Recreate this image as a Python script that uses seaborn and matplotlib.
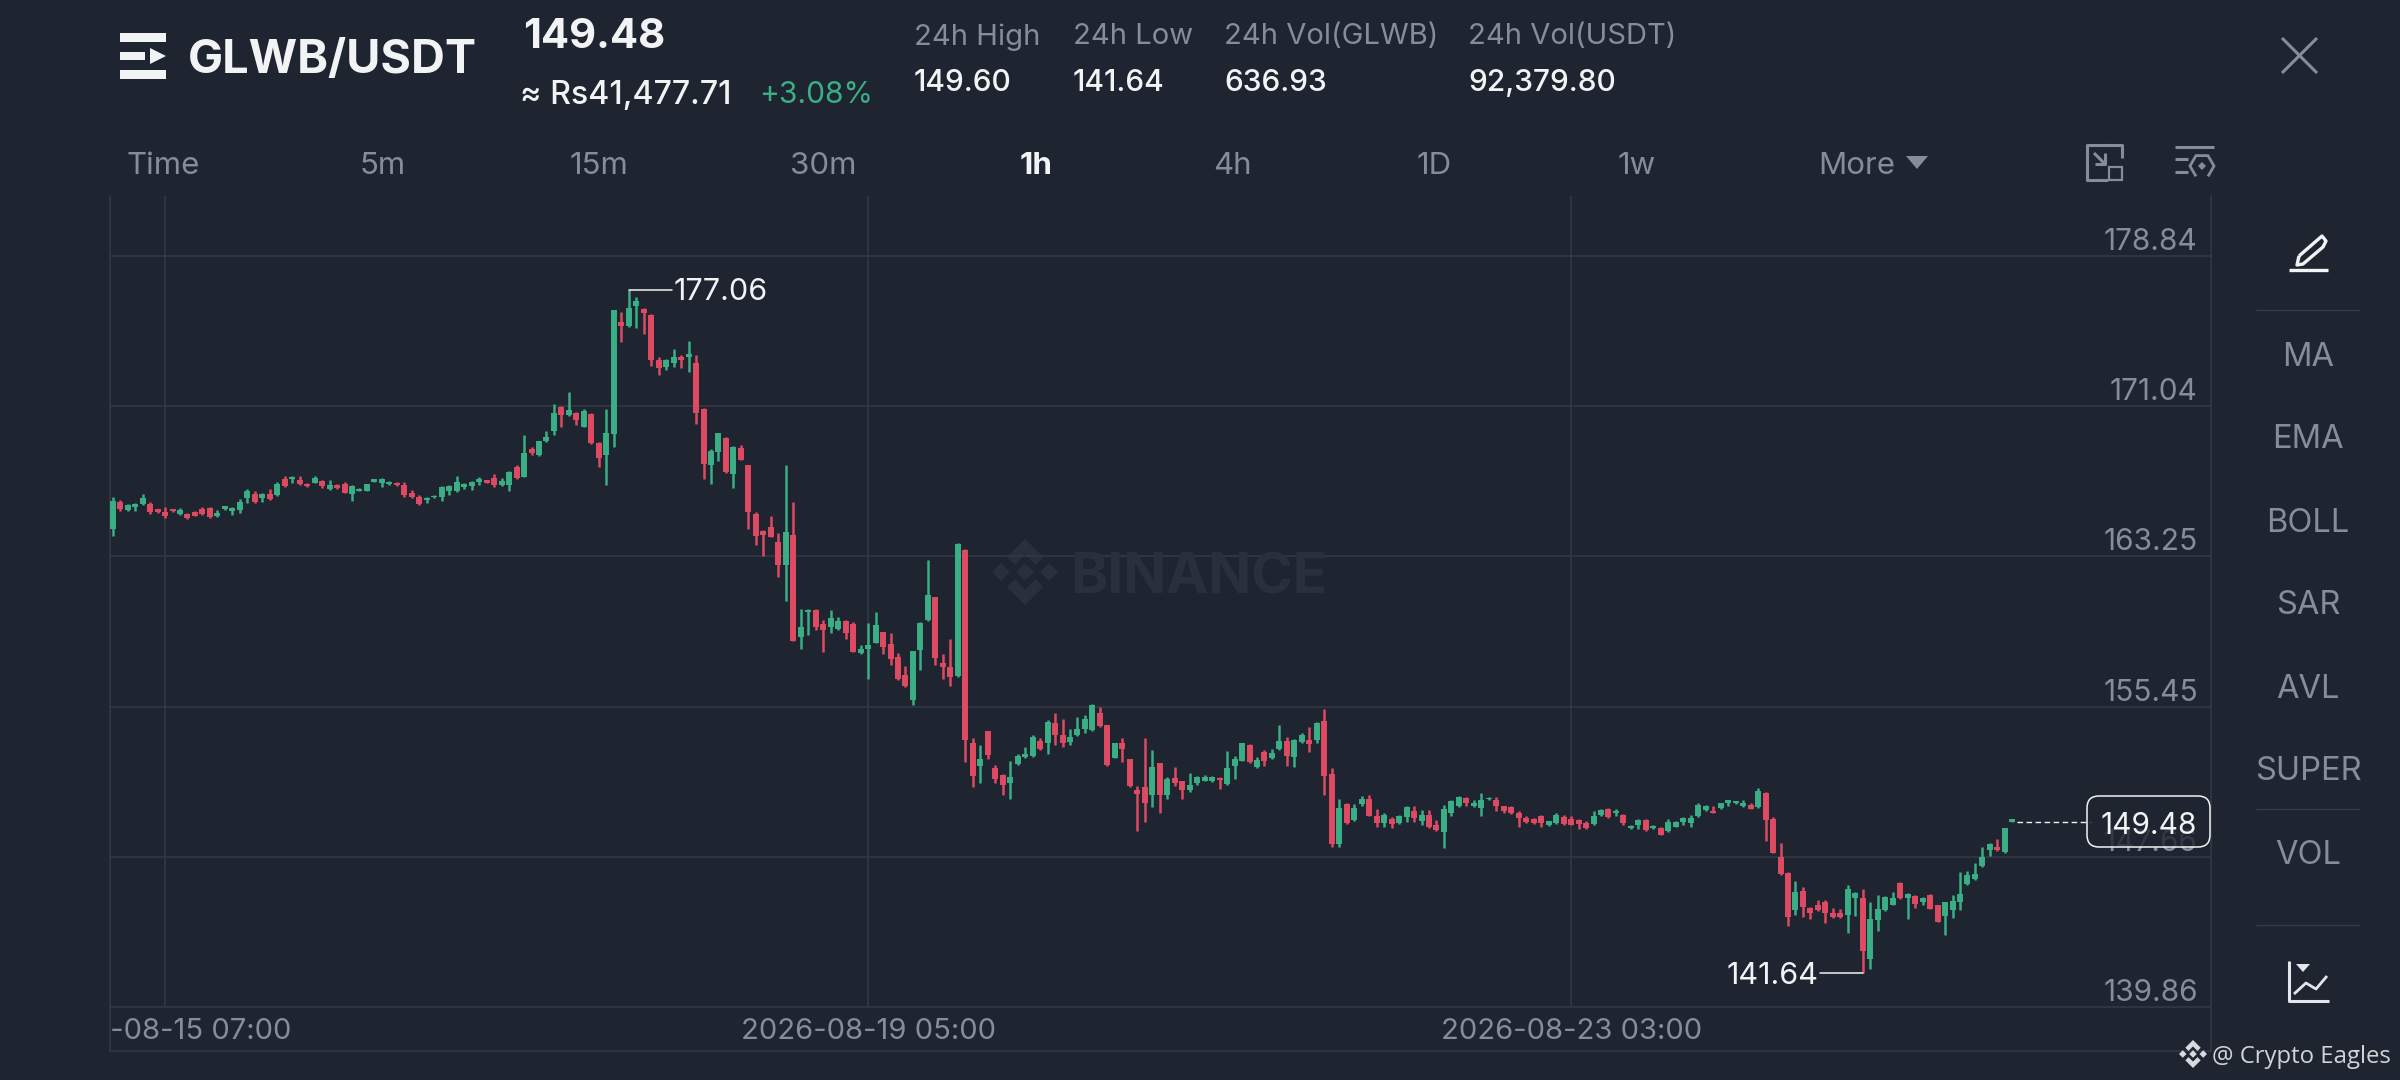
import matplotlib
matplotlib.use("Agg")
import matplotlib.pyplot as plt
from matplotlib.lines import Line2D
from matplotlib.patches import Polygon, Rectangle, FancyBboxPatch
from matplotlib.transforms import Affine2D
import numpy as np
import pandas as pd
import seaborn as sns

# ---------- data ----------
directions = ("GRGGGRRRRG" "RRRRGGGGGR" "GRGRGRRGRG" "RRGGGGGGRR" "RRGGGGGGGG" "RRGGRGRGGG"
              "RGRGRRGGRG" "GRRRGGRGRR" "GGRGRRRRRR" "GRGGRRGGRR" "GGGRRRRGGG" "RRRGRRGRRR"
              "GGGGRGRRGG" "GGRRGRRRRG" "RGRRGGGGRG" "GGRGRGGRGG" "RGRRGRGGRR" "GRGGRGRRGG"
              "GRGGGRRRRR" "RRGGRRRRGG" "RGRGGRGRGG" "GGGGRGGGGR" "GRRRRGRRRR" "RRGGRGGGGR"
              "GRGRRGGGGG" "GGRGG")

highs = [
 166.31,166.17,165.97,166.00,166.49,166.09,165.72,165.79,165.72,165.76,
 165.52,165.62,165.83,165.79,165.66,165.86,165.83,166.24,166.73,166.62,
 166.52,166.73,167.11,167.42,167.42,167.42,167.04,167.44,167.21,167.21,
 166.99,167.11,166.97,166.78,167.00,167.28,167.30,167.14,167.11,167.11,
 166.69,166.43,166.35,166.42,166.90,166.95,167.42,167.07,167.14,167.39,
 167.21,167.52,167.30,167.70,167.99,169.55,168.94,169.25,169.77,171.16,
 171.07,171.76,170.72,170.88,170.67,169.20,170.88,176.03,175.93,177.06,
 176.69,176.12,175.83,173.58,173.47,173.99,173.68,174.44,173.68,170.93,
 168.80,169.67,169.43,168.98,169.04,167.99,165.55,164.60,165.34,164.44,
 167.99,166.07,160.50,160.50,160.50,159.95,160.46,160.08,159.95,159.84,
 158.63,159.77,160.38,159.34,159.29,158.21,157.56,158.35,159.84,163.06,
 161.16,158.18,158.94,163.93,163.62,153.81,153.46,154.21,152.42,151.96,
 152.65,152.99,153.34,153.96,153.83,154.76,155.11,154.79,154.31,154.93,
 155.02,155.59,155.42,154.50,153.58,153.81,152.75,151.33,153.81,153.20,
 152.55,151.82,152.30,151.61,151.99,151.85,151.90,151.84,151.78,153.17,
 152.89,153.55,153.51,152.82,153.20,153.24,154.52,153.86,153.76,154.07,
 154.41,154.67,155.31,152.25,150.64,150.44,150.40,150.79,150.87,150.16,
 149.95,149.71,149.85,150.27,150.27,150.09,150.09,149.57,150.34,150.58,
 150.79,150.75,150.61,150.99,150.75,150.75,150.30,150.27,150.02,149.78,
 149.68,149.82,149.54,149.92,149.85,149.78,149.61,149.50,150.02,150.13,
 150.20,150.16,149.89,149.30,149.64,149.64,149.30,149.19,149.61,149.50,
 149.71,149.85,150.47,150.34,150.27,150.47,150.59,150.54,150.58,150.47,
 151.23,151.03,149.71,148.39,146.87,146.40,146.11,145.07,145.41,145.41,
 144.98,144.93,146.18,145.83,146.00,145.31,145.67,145.62,145.85,146.35,
 145.76,145.69,145.55,145.73,145.17,145.33,145.67,146.87,146.90,147.35,
 148.18,148.36,148.60,149.15,149.60]

body_tops = [
 166.14,166.09,165.92,165.95,166.26,165.97,165.69,165.57,165.69,165.66,
 165.43,165.55,165.69,165.76,165.48,165.85,165.78,166.09,166.66,166.49,
 166.49,166.49,167.00,167.28,167.39,167.21,167.00,167.32,167.18,166.97,
 166.95,166.99,166.90,166.75,166.99,167.25,167.28,167.13,167.07,166.94,
 166.56,166.35,166.30,166.40,166.83,166.90,167.13,167.00,167.11,167.28,
 167.21,167.32,167.14,167.63,167.91,168.63,168.84,169.22,169.43,170.71,
 171.02,170.85,170.71,170.81,170.64,169.11,169.67,176.03,175.43,176.12,
 176.52,176.07,175.79,173.44,173.44,173.58,173.61,173.75,173.27,170.91,
 168.73,169.63,169.39,168.94,168.87,167.97,165.45,164.58,164.79,164.01,
 164.53,164.35,159.60,160.46,160.46,159.74,160.03,159.91,159.91,159.74,
 158.44,158.66,159.67,159.30,158.70,158.04,157.09,158.32,159.81,161.24,
 161.14,157.73,157.52,163.89,163.58,153.55,152.72,154.17,152.25,151.92,
 151.82,152.89,152.99,153.90,153.69,154.67,154.62,153.98,153.86,154.28,
 154.83,155.52,155.14,154.48,153.55,153.58,152.72,151.13,151.27,152.30,
 152.51,151.72,151.73,151.58,151.39,151.78,151.78,151.80,151.75,152.25,
 152.75,153.55,153.48,152.68,153.10,153.03,153.69,153.65,153.72,153.98,
 153.72,154.62,154.73,151.96,150.18,150.40,150.18,150.65,150.65,149.78,
 149.82,149.64,149.75,150.23,150.06,149.82,149.83,149.31,150.13,150.54,
 150.75,150.72,150.44,150.58,150.73,150.61,150.27,150.23,149.95,149.68,
 149.64,149.75,149.50,149.85,149.71,149.61,149.57,149.40,149.78,150.09,
 150.16,150.06,149.82,149.26,149.57,149.57,149.26,149.16,149.47,149.47,
 149.68,149.68,150.34,150.30,150.06,150.44,150.58,150.53,150.47,150.37,
 151.06,150.99,149.64,147.66,146.83,145.85,145.90,144.98,145.15,145.31,
 144.72,144.72,145.97,145.76,145.50,144.45,144.93,145.59,145.50,146.31,
 145.73,145.62,145.52,145.66,145.14,145.29,145.38,145.73,146.71,146.76,
 147.66,148.32,148.18,149.13,149.60]

body_bottoms = [
 164.65,165.69,165.66,165.83,165.97,165.57,165.55,165.34,165.59,165.45,
 165.22,165.36,165.45,165.31,165.34,165.71,165.62,165.66,166.28,166.05,
 166.26,166.24,166.42,166.90,167.28,167.00,166.90,167.07,166.90,166.73,
 166.78,166.56,166.49,166.66,166.66,167.13,167.07,166.99,166.94,166.42,
 166.31,165.97,166.17,166.31,166.35,166.66,166.62,166.83,166.90,167.09,
 167.07,166.94,166.95,166.95,167.32,167.39,168.60,168.49,169.24,169.77,
 170.59,170.59,170.33,169.98,169.11,168.34,168.51,169.60,175.20,175.20,
 176.24,175.86,173.44,173.01,173.09,173.30,173.44,173.58,170.67,168.04,
 167.99,168.68,167.63,167.52,168.25,165.57,164.30,164.35,164.27,162.80,
 162.80,158.87,159.08,160.38,159.56,159.43,159.56,159.46,159.25,158.30,
 158.21,158.46,158.77,158.56,157.90,156.87,156.52,155.80,158.39,159.95,
 157.96,157.52,157.00,157.04,153.72,151.85,152.37,152.94,151.68,151.39,
 151.47,152.48,152.82,152.89,153.24,153.55,153.98,153.58,153.64,153.96,
 154.28,154.24,154.45,152.42,152.80,153.24,151.33,150.92,150.47,150.87,
 150.87,150.87,151.47,151.13,151.13,151.47,151.61,151.58,151.65,151.44,
 152.37,152.65,152.60,152.34,152.65,152.77,153.24,152.89,152.86,153.64,
 153.51,153.72,151.85,148.32,148.32,149.40,149.57,150.40,149.78,149.40,
 149.40,149.37,149.40,149.71,149.66,149.54,149.23,149.05,148.97,149.92,
 150.27,150.47,150.27,150.18,150.65,150.27,150.06,149.92,149.66,149.44,
 149.40,149.40,149.30,149.40,149.37,149.33,149.37,149.16,149.37,149.83,
 149.71,149.92,149.40,149.16,149.30,149.05,149.16,148.81,149.02,149.23,
 149.44,149.40,149.75,150.09,149.95,150.18,150.44,150.44,150.27,150.16,
 150.23,149.57,147.88,146.76,144.51,144.89,145.07,144.72,144.89,144.72,
 144.51,144.51,144.64,145.52,142.78,142.33,144.38,144.89,145.17,145.50,
 145.50,145.21,145.33,144.96,144.29,144.58,144.89,145.33,146.24,146.49,
 147.18,148.01,148.01,147.91,149.48]

lows = [
 164.31,165.62,165.59,165.62,165.93,165.43,165.52,165.24,165.55,165.41,
 165.19,165.33,165.41,165.24,165.27,165.67,165.38,165.52,166.04,166.04,
 166.07,166.17,166.38,166.87,167.07,166.97,166.87,167.04,166.78,166.69,
 166.73,166.52,166.14,166.62,166.62,167.11,166.87,166.94,166.90,166.31,
 166.28,165.93,166.00,166.28,166.14,166.42,166.59,166.73,166.69,166.94,
 167.04,166.87,166.90,166.62,167.28,167.35,168.53,168.46,169.20,169.53,
 169.95,170.55,170.08,169.94,169.08,167.90,166.95,168.94,174.37,175.17,
 175.10,174.79,173.13,172.68,172.92,173.06,173.02,172.82,170.12,167.25,
 167.00,168.21,167.59,166.78,168.23,164.69,163.82,163.27,164.24,162.16,
 160.91,158.84,158.46,159.18,159.43,158.28,159.29,159.43,158.98,158.27,
 158.18,156.90,158.73,158.18,157.59,156.83,156.48,155.53,157.35,159.91,
 157.59,156.87,156.52,157.01,152.60,151.30,151.51,152.75,151.51,150.85,
 150.68,152.42,152.77,152.86,153.20,152.99,153.48,153.34,153.48,153.93,
 154.10,154.21,154.38,152.37,152.77,152.60,151.30,149.02,149.48,150.23,
 149.95,150.68,151.33,150.64,151.02,151.39,151.58,151.54,151.20,151.40,
 151.68,152.61,152.55,152.29,152.37,152.74,153.20,152.37,152.34,153.55,
 153.12,153.58,150.85,148.15,148.15,149.37,149.54,150.27,149.75,149.19,
 149.19,149.16,149.37,149.44,149.44,149.33,149.16,149.02,148.12,149.75,
 150.23,150.27,150.23,149.78,150.61,150.06,149.95,149.89,149.19,149.40,
 149.37,149.19,149.26,149.37,149.30,149.30,149.12,149.12,149.30,149.80,
 149.68,149.78,149.30,149.12,149.12,148.99,149.12,148.78,148.95,149.19,
 149.30,149.23,149.71,150.02,149.92,150.15,150.30,150.40,150.23,150.13,
 150.20,148.50,147.84,146.73,144.06,144.62,144.51,144.43,144.86,144.24,
 144.48,144.48,143.68,144.58,141.64,141.85,143.79,144.86,145.14,145.45,
 144.41,145.00,145.14,144.93,144.26,143.61,144.50,144.89,146.19,146.45,
 147.14,147.70,147.97,147.87,149.46]

price_ticks = [178.84, 171.04, 163.25, 155.45, 147.66, 139.86]
price_labels = ["178.84", "171.04", "163.25", "155.45", "147.66", "139.86"]
time_tick_candles = [7, 101, 195]
time_labels = ["2026-08-15 07:00", "2026-08-19 05:00", "2026-08-23 03:00"]
high_candle, high_value = 69, 177.06
low_candle, low_value = 234, 141.64
last_candle, last_price = 254, 149.48
tabs = ["Time", "5m", "15m", "30m", "1h", "4h", "1D", "1w", "More"]
indicators = ["MA", "EMA", "BOLL", "SAR", "AVL", "SUPER", "VOL"]
stats_names = ["24h High", "24h Low", "24h Vol(GLWB)", "24h Vol(USDT)"]
stats_values = ["149.60", "141.64", "636.93", "92,379.80"]

# ---------- style ----------
BG = "#1e2430"
GRID = "#353b46"
GREY = "#858d9a"
WHITE = "#f2f3f5"
GREEN = "#3aae84"
RED = "#de4a62"
WM = "#2a303b"

sns.set_theme(style="dark", rc={"figure.facecolor": BG, "axes.facecolor": BG, "savefig.facecolor": BG})
plt.rcParams["font.family"] = ["Inter", "DejaVu Sans"]

fig = plt.figure(figsize=(24, 10.8), dpi=100)
px = Affine2D().scale(1, -1).translate(0, 1080)   # screen pixels, y downwards

L, R, T, B = 110, 2211, 196, 1051
ax = fig.add_axes([L / 2400, 1 - B / 1080, (R - L) / 2400, (B - T) / 1080])

# ---------- candles ----------
n = len(highs)
idx = np.arange(n)
dirs = list(directions)
wicks = pd.DataFrame({"candle": np.r_[idx, idx], "price": highs + lows, "dir": dirs * 2})
bodies = pd.DataFrame({"candle": np.r_[idx, idx], "price": body_tops + body_bottoms, "dir": dirs * 2})
palette = {"G": GREEN, "R": RED}
sns.lineplot(data=wicks, x="candle", y="price", hue="dir", units="candle", estimator=None,
             palette=palette, legend=False, ax=ax, lw=1.8, solid_capstyle="butt", zorder=3)
sns.lineplot(data=bodies, x="candle", y="price", hue="dir", units="candle", estimator=None,
             palette=palette, legend=False, ax=ax, lw=4.3, solid_capstyle="butt", zorder=4)

ax.set_xlim(-0.36, 280.56)
ax.set_ylim(137.58, 181.95)
ax.set_xlabel("")
ax.set_ylabel("")

# axes furniture
ax.yaxis.tick_right()
ax.set_yticks(price_ticks, price_labels)
ax.set_xticks(time_tick_candles, time_labels)
ax.tick_params(axis="y", length=0, pad=-9.5, labelsize=21.5, labelcolor=GREY)
ax.tick_params(axis="x", length=0, pad=-23.5, labelsize=21, labelcolor=GREY)
for lbl in ax.get_yticklabels():
    lbl.set_ha("right")
    lbl.set_va("bottom")
for lbl in ax.get_xticklabels():
    lbl.set_clip_on(True)
    lbl.set_clip_box(ax.bbox)
ax.grid(False)
ax.hlines(price_ticks, -0.36, 280.56, color=GRID, lw=1.1, zorder=1)
ax.vlines(time_tick_candles, price_ticks[-1], 181.95, color=GRID, lw=1.1, zorder=1)
for side in ("left", "right", "bottom"):
    ax.spines[side].set_color(GRID)
    ax.spines[side].set_linewidth(1.1)
ax.spines["top"].set_visible(False)

# extreme markers
ax.plot([high_candle, high_candle + 5.75], [high_value, high_value], color=WHITE, lw=1.1, zorder=5)
ax.annotate(f"{high_value:.2f}", (high_candle + 5.75, high_value), xytext=(1, -1.5), textcoords="offset points",
            color=WHITE, fontsize=22, va="center", ha="left")
ax.plot([low_candle, low_candle - 5.75], [low_value, low_value], color=WHITE, lw=1.1, zorder=5)
ax.annotate(f"{low_value:.2f}", (low_candle - 5.75, low_value), xytext=(-1, -2), textcoords="offset points",
            color=WHITE, fontsize=22, va="center", ha="right")
ax.plot([last_candle + 0.6, 264.5], [last_price, last_price], color=WHITE, lw=1.0, ls=(0, (4, 2.5)), zorder=5)


def logo(cx, cy, r, color, target, z):
    def add(pts):
        p = Polygon([(cx + a * r, cy + b * r) for a, b in pts], closed=True, fc=color, ec="none", transform=px, zorder=z)
        target(p)
    d = 0.27
    for ox in (-0.73, 0, 0.73):
        add([(ox - d, 0), (ox, d), (ox + d, 0), (ox, -d)])
    chev = [(-0.55, 0.45), (0, 1), (0.55, 0.45), (0.32, 0.22), (0, 0.54), (-0.32, 0.22)]
    add(chev)
    add([(a, -b) for a, b in chev])


# watermark
logo(1025, 572, 33, WM, ax.add_patch, 0.5)
fig.text(1070, 578, "BINANCE", transform=px, color=WM, fontsize=40.5, fontweight="bold", va="center", ha="left", zorder=0.2)


def put(x, y, s, color=WHITE, size=22, weight="normal", ha="left", z=6, family=None):
    t = fig.text(x, y, s, transform=px, color=color, fontsize=size, fontweight=weight, ha=ha, va="center", zorder=z)
    if family:
        t.set_family(family)
    return t


def line(xs, ys, color=GREY, lw=2.0, **kw):
    kw.setdefault("solid_capstyle", "butt")
    fig.add_artist(Line2D(xs, ys, color=color, lw=lw, transform=px, **kw))


def shape(pts, color):
    fig.add_artist(Polygon(pts, closed=True, fc=color, ec="none", transform=px))


# current price box
fig.add_artist(FancyBboxPatch((2087, 796), 123, 51, boxstyle="round,pad=0,rounding_size=12", fc=BG, alpha=0.8,
                              ec="none", transform=px, zorder=5))
fig.add_artist(FancyBboxPatch((2087, 796), 123, 51, boxstyle="round,pad=0,rounding_size=12", fc="none",
                              ec=WHITE, lw=1.1, transform=px, zorder=5))
put(2197, 826, f"{last_price:.2f}", size=21.5, ha="right")

# header
for y0, y1 in ((33, 42), (70, 79)):
    shape([(120, y0), (166, y0), (166, y1), (120, y1)], WHITE)
shape([(120, 52), (145, 52), (145, 60), (120, 60)], WHITE)
shape([(150, 48), (166, 56), (150, 64)], WHITE)
put(188, 61, "GLWB/USDT", size=33.7, weight="bold")
put(523, 37, "149.48", size=30, weight="bold")
put(520, 95, "≈ Rs41,477.71", size=23.2, weight="medium")
put(759, 95, "+3.08%", color=GREEN, size=21.6)
for x, name, val in zip((914, 1073, 1224, 1468), stats_names, stats_values):
    put(x, 37, name, color=GREY, size=21)
    put(x, 83, val, size=21.5, weight="medium")
line([2282, 2317], [38, 73], lw=2.2)
line([2317, 2282], [38, 73], lw=2.2)

# tabs
for x, s in zip((163, 383, 599, 823, 1036, 1232, 1434, 1637, 1857), tabs):
    active = s == "1h"
    put(x, 166, s, color=WHITE if active else GREY, size=22.5, weight="bold" if active else "normal", ha="center")
shape([(1906, 156), (1928, 156), (1917, 169)], GREY)

# layout icons
line([2108, 2087, 2087, 2108], [145, 145, 180, 180], lw=2.2)
line([2104, 2122, 2122], [145, 145, 158], lw=2.2)
line([2094, 2105], [153, 164], lw=2.2)
line([2095, 2105, 2105], [163.5, 163.5, 153], lw=2.2)
fig.add_artist(Rectangle((2109, 167), 13, 13, fc="none", ec=GREY, lw=1.6, transform=px))
line([2175, 2214], [147, 147], lw=2.2)
line([2175, 2188], [159, 159], lw=2.2)
line([2175, 2188], [172, 172], lw=2.2)
a = np.deg2rad(np.arange(30, 390, 60))
shape_x = 2202 + 12 * np.sin(a)
shape_y = 166 + 12 * np.cos(a)
line(shape_x, shape_y, lw=2.0, solid_joinstyle="miter")
shape([(2202, 162), (2206, 166), (2202, 170), (2198, 166)], GREY)

# right panel
line([2289, 2328], [270, 270], color=WHITE, lw=2.4)
line([2299, 2322, 2326, 2323, 2303, 2297, 2299], [256, 236, 241, 247, 264, 265, 256], color=WHITE, lw=2.4)
for y, s in zip((354, 437, 520, 603, 686, 769, 852), indicators):
    put(2308, y + 3, s, color=GREY, size=23.5, ha="center")
for y in (310, 809, 925):
    line([2256, 2360], [y, y], color=GRID, lw=1.0)
line([2289, 2289, 2329], [961, 1001, 1001], color="#e4e6ea", lw=2.2)
line([2294, 2306, 2316, 2327], [994, 983, 989, 976], color="#e4e6ea", lw=2.0)
shape([(2296, 964), (2310, 964), (2303, 972)], "#e4e6ea")

# footer
logo(2193, 1054, 14, "#d8dade", fig.add_artist, 6)
put(2212, 1057, "@ Crypto Eagles", color="#d0d3d8", size=17.2, family=["Open Sans", "DejaVu Sans"])

fig.savefig("out.png", dpi=100)
